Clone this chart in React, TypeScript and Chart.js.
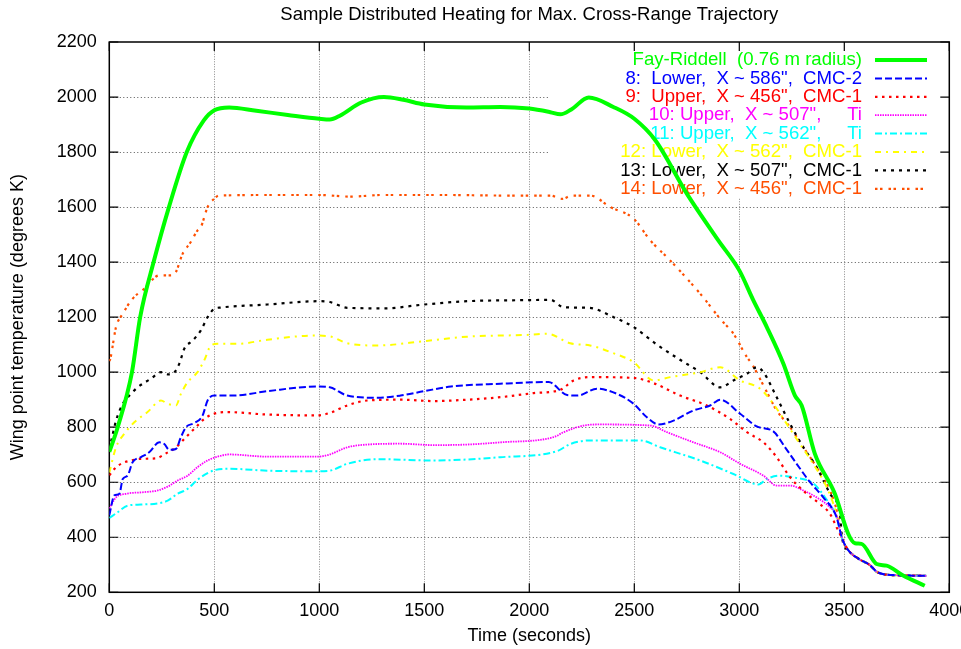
import React, { useEffect, useRef } from "react";
import { Chart, registerables } from "chart.js";

Chart.register(...registerables);

// ---------- data (time in seconds, temperature in K) ----------
const TITLE = "Sample Distributed Heating for Max. Cross-Range Trajectory";
const X_TITLE = "Time (seconds)";
const Y_TITLE = "Wing point temperature (degrees K)";
const X_TICKS = [0, 500, 1000, 1500, 2000, 2500, 3000, 3500, 4000];
const Y_TICKS = [200, 400, 600, 800, 1000, 1200, 1400, 1600, 1800, 2000, 2200];

const FAY_T = [0, 40, 108, 147, 211, 284, 369, 450, 500, 571, 700, 850, 1000, 1050, 1100, 1200, 1308, 1400, 1500, 1700, 1862, 2000, 2100, 2148, 2200, 2283, 2400, 2500, 2600, 2750, 2900, 3000, 3067, 3131, 3210, 3265, 3297, 3360, 3455, 3519, 3551, 3582, 3654, 3701, 3780, 3883];
const FAY_V = [710, 800, 1000, 1200, 1400, 1600, 1800, 1915, 1952, 1962, 1950, 1935, 1921, 1918, 1933, 1980, 2000, 1990, 1973, 1962, 1964, 1958, 1945, 1937, 1955, 1998, 1964, 1921, 1843, 1649, 1479, 1370, 1261, 1164, 1031, 915, 879, 703, 558, 412, 378, 376, 303, 297, 261, 224];

// shared tail where all thin curves merge
const TAIL_T = [3490, 3520, 3570, 3620, 3660, 3750, 3890];
const TAIL_V = [395, 352, 321, 300, 272, 262, 260];

const S8_T = [0, 24, 48, 64, 87, 111, 151, 190, 238, 262, 285, 317, 341, 365, 404, 444, 468, 499, 594, 753, 991, 1050, 1133, 1276, 1387, 1500, 1627, 1862, 2092, 2180, 2230, 2322, 2418, 2497, 2560, 2615, 2687, 2782, 2861, 2909, 3004, 3083, 3162, 3218, 3273, 3337, 3400, 3463];
const S8_V = [480, 552, 558, 612, 624, 673, 691, 709, 745, 739, 718, 721, 764, 800, 815, 842, 897, 915, 915, 931, 948, 945, 915, 907, 915, 931, 948, 958, 964, 917, 915, 940, 921, 885, 836, 810, 824, 861, 879, 900, 849, 803, 785, 727, 667, 600, 545, 473];

const S9_T = [0, 24, 56, 103, 151, 222, 270, 317, 365, 412, 452, 499, 563, 753, 991, 1050, 1133, 1229, 1387, 1546, 1704, 1862, 2021, 2148, 2211, 2290, 2497, 2592, 2718, 2845, 2956, 3036, 3115, 3178, 3242, 3321, 3384, 3432, 3471];
const S9_V = [625, 648, 667, 679, 685, 687, 705, 727, 764, 800, 830, 849, 855, 846, 843, 852, 879, 897, 900, 895, 900, 909, 924, 936, 970, 982, 979, 960, 915, 879, 830, 782, 745, 691, 618, 558, 521, 485, 424];

const S10_T = [0, 32, 79, 166, 230, 278, 325, 373, 420, 468, 515, 571, 753, 991, 1050, 1133, 1229, 1387, 1546, 1704, 1862, 2116, 2164, 2259, 2338, 2576, 2655, 2782, 2909, 3004, 3115, 3178, 3242, 3305, 3368, 3432, 3463];
const S10_V = [505, 545, 558, 564, 570, 584, 606, 624, 655, 679, 693, 701, 693, 693, 701, 727, 737, 740, 735, 737, 745, 764, 782, 806, 810, 806, 782, 745, 709, 667, 624, 588, 588, 570, 545, 509, 479];

const S11_T = [0, 40, 87, 151, 238, 278, 325, 373, 420, 468, 507, 571, 753, 991, 1050, 1133, 1276, 1546, 1862, 2132, 2195, 2290, 2528, 2623, 2814, 2972, 3091, 3131, 3194, 3257, 3352, 3408, 3463];
const S11_V = [470, 491, 515, 519, 524, 533, 558, 576, 609, 633, 645, 649, 642, 640, 642, 667, 684, 679, 691, 713, 739, 752, 752, 727, 679, 630, 592, 612, 624, 618, 596, 545, 473];

const S12_T = [0, 32, 71, 119, 182, 246, 278, 317, 341, 373, 420, 452, 484, 515, 610, 753, 975, 1050, 1133, 1276, 1500, 1704, 2005, 2085, 2195, 2290, 2386, 2497, 2592, 2671, 2814, 2909, 3004, 3099, 3162, 3226, 3289, 3352, 3416, 3463];
const S12_V = [635, 727, 776, 818, 855, 897, 885, 879, 921, 964, 1000, 1043, 1097, 1103, 1103, 1118, 1133, 1130, 1105, 1097, 1113, 1129, 1136, 1140, 1105, 1097, 1073, 1036, 970, 982, 1000, 1018, 970, 940, 885, 812, 739, 667, 582, 485];

const S13_T = [0, 15, 32, 64, 103, 135, 198, 246, 278, 301, 333, 357, 397, 436, 468, 499, 531, 753, 1002, 1050, 1133, 1308, 1500, 1704, 2005, 2100, 2164, 2283, 2401, 2497, 2608, 2718, 2814, 2909, 2972, 3036, 3083, 3115, 3178, 3242, 3305, 3368, 3432, 3479];
const S13_V = [720, 770, 824, 885, 921, 945, 976, 1000, 992, 994, 1030, 1085, 1115, 1152, 1200, 1230, 1235, 1246, 1258, 1255, 1234, 1232, 1246, 1258, 1262, 1263, 1236, 1234, 1200, 1164, 1100, 1045, 1000, 945, 970, 994, 1018, 1000, 909, 812, 727, 655, 558, 485];

const S14_T = [0, 5, 32, 64, 111, 166, 238, 293, 317, 349, 388, 420, 436, 468, 499, 523, 800, 1000, 1150, 1300, 1600, 1862, 2100, 2156, 2203, 2290, 2386, 2497, 2576, 2671, 2814, 2909, 2972, 3036, 3059, 3115, 3178, 3242, 3305, 3368, 3424, 3460];
const S14_V = [1040, 1049, 1164, 1212, 1267, 1303, 1352, 1352, 1364, 1430, 1473, 1515, 1527, 1600, 1630, 1642, 1644, 1644, 1638, 1644, 1644, 1642, 1642, 1630, 1642, 1642, 1600, 1558, 1479, 1406, 1285, 1194, 1140, 1055, 1031, 952, 861, 800, 727, 655, 582, 510];

const LABELS = [
  "Fay-Riddell  (0.76 m radius)",
  "8:  Lower,  X ~ 586\",  CMC-2",
  "9:  Upper,  X ~ 456\",  CMC-1",
  "10: Upper,  X ~ 507\",     Ti",
  "11: Upper,  X ~ 562\",     Ti",
  "12: Lower,  X ~ 562\",  CMC-1",
  "13: Lower,  X ~ 507\",  CMC-1",
  "14: Lower,  X ~ 456\",  CMC-1",
];

// ---------- styles ----------
const FONT = "'Liberation Sans', Arial, Helvetica, sans-serif";
const STYLES = [
  { color: "#00ff00", width: 4, dash: [] as number[] },
  { color: "#0000ff", width: 2, dash: [7, 3] },
  { color: "#ff0000", width: 2.2, dash: [2.5, 4.5] },
  { color: "#ff00ff", width: 1.8, dash: [1.5, 1] },
  { color: "#00ffff", width: 2, dash: [7, 3, 2, 3] },
  { color: "#ffff00", width: 2, dash: [6, 5, 2, 5] },
  { color: "#000000", width: 2.2, dash: [3, 5] },
  { color: "#ff4f00", width: 2.2, dash: [2.5, 2.5, 2.5, 6] },
];

const KEY_LEFT = 549;
const KEY_BOTTOM = 198;
const LEGEND_TEXT_RIGHT = 862;
const LEGEND_TOP = 60;
const LEGEND_ROW = 18.4;
const SAMPLE_X0 = 875;
const SAMPLE_X1 = 927;
const TITLE_Y = 15;

function pts(t: number[], v: number[], withTail: boolean) {
  const out = t.map((x, i) => ({ x, y: v[i] }));
  if (withTail) TAIL_T.forEach((x, i) => out.push({ x, y: TAIL_V[i] }));
  return out;
}

const framePlugin = {
  id: "frame",
  beforeDatasetsDraw(chart: any) {
    const { ctx, chartArea: a, scales } = chart;
    const xs = scales.x;
    const ys = scales.y;
    ctx.save();
    // title centred over the plot area
    ctx.font = `18.5px ${FONT}`;
    ctx.fillStyle = "#000";
    ctx.textAlign = "center";
    ctx.textBaseline = "middle";
    ctx.fillText(TITLE, (a.left + a.right) / 2, TITLE_Y);
    // grid
    ctx.lineWidth = 1;
    ctx.strokeStyle = "#555";
    ctx.setLineDash([1, 2.5]);
    Y_TICKS.forEach((v) => {
      if (v === Y_TICKS[0] || v === Y_TICKS[Y_TICKS.length - 1]) return;
      const py = Math.round(ys.getPixelForValue(v)) + 0.5;
      const xEnd = py < KEY_BOTTOM ? KEY_LEFT : a.right;
      ctx.beginPath();
      ctx.moveTo(a.left, py);
      ctx.lineTo(xEnd, py);
      ctx.stroke();
    });
    ctx.strokeStyle = "#888";
    ctx.setLineDash([1, 1.5]);
    X_TICKS.forEach((v) => {
      if (v === X_TICKS[0] || v === X_TICKS[X_TICKS.length - 1]) return;
      const px = Math.round(xs.getPixelForValue(v)) + 0.5;
      const yTop = px > KEY_LEFT ? KEY_BOTTOM : a.top;
      ctx.beginPath();
      ctx.moveTo(px, a.bottom);
      ctx.lineTo(px, yTop);
      ctx.stroke();
    });
    ctx.setLineDash([]);
    // border
    ctx.strokeStyle = "#000";
    ctx.lineWidth = 1.5;
    ctx.strokeRect(a.left, a.top, a.right - a.left, a.bottom - a.top);
    // inward ticks
    const TL = 9;
    ctx.lineWidth = 1.2;
    ctx.beginPath();
    Y_TICKS.forEach((v) => {
      const py = ys.getPixelForValue(v);
      ctx.moveTo(a.left, py);
      ctx.lineTo(a.left + TL, py);
      ctx.moveTo(a.right, py);
      ctx.lineTo(a.right - TL, py);
    });
    X_TICKS.forEach((v) => {
      const px = xs.getPixelForValue(v);
      ctx.moveTo(px, a.bottom);
      ctx.lineTo(px, a.bottom - TL);
      ctx.moveTo(px, a.top);
      ctx.lineTo(px, a.top + TL);
    });
    ctx.stroke();
    // legend
    ctx.font = `18.6px ${FONT}`;
    ctx.textAlign = "right";
    ctx.textBaseline = "middle";
    chart.data.datasets.forEach((ds: any, i: number) => {
      const yy = LEGEND_TOP + i * LEGEND_ROW;
      ctx.fillStyle = ds.borderColor;
      ctx.fillText(ds.label, LEGEND_TEXT_RIGHT, yy);
      ctx.strokeStyle = ds.borderColor;
      ctx.lineWidth = ds.borderWidth;
      ctx.setLineDash(ds.borderDash || []);
      ctx.beginPath();
      ctx.moveTo(SAMPLE_X0, yy);
      ctx.lineTo(SAMPLE_X1, yy);
      ctx.stroke();
    });
    ctx.restore();
  },
};

export default function App() {
  const ref = useRef<HTMLCanvasElement | null>(null);
  useEffect(() => {
    if (!ref.current) return;
    const series = [
      pts(FAY_T, FAY_V, false),
      pts(S8_T, S8_V, true),
      pts(S9_T, S9_V, true),
      pts(S10_T, S10_V, true),
      pts(S11_T, S11_V, true),
      pts(S12_T, S12_V, true),
      pts(S13_T, S13_V, true),
      pts(S14_T, S14_V, true),
    ];
    const chart = new Chart(ref.current, {
      type: "line",
      data: {
        datasets: series.map((d, i) => ({
          label: LABELS[i],
          data: d,
          borderColor: STYLES[i].color,
          backgroundColor: STYLES[i].color,
          borderWidth: STYLES[i].width,
          borderDash: STYLES[i].dash,
          borderCapStyle: "butt",
          pointRadius: 0,
          fill: false,
          cubicInterpolationMode: "monotone",
        })),
      },
      options: {
        animation: false,
        responsive: false,
        devicePixelRatio: 1,
        layout: { padding: { left: 0, right: 11.7, top: 42, bottom: 0 } },
        plugins: {
          legend: { display: false },
          tooltip: { enabled: false },
          title: { display: false },
        },
        scales: {
          x: {
            type: "linear",
            min: 0,
            max: 4000,
            afterBuildTicks: (s: any) => {
              s.ticks = X_TICKS.map((v) => ({ value: v }));
            },
            ticks: {
              color: "#000",
              font: { family: FONT, size: 18 },
              padding: 8.4,
              maxRotation: 0,
              autoSkip: false,
              callback: (v: any) => String(v),
            },
            grid: { display: false, drawTicks: false },
            border: { display: false },
            title: { display: true, text: X_TITLE, color: "#000", font: { family: FONT, size: 18 }, padding: { top: 0, bottom: 2 } },
            afterFit: (s: any) => {
              s.height = 56.7;
              s.paddingLeft = 0;
              s.paddingRight = 0;
            },
          },
          y: {
            type: "linear",
            min: 200,
            max: 2200,
            afterBuildTicks: (s: any) => {
              s.ticks = Y_TICKS.map((v) => ({ value: v }));
            },
            ticks: {
              color: "#000",
              font: { family: FONT, size: 18 },
              padding: 12.6,
              autoSkip: false,
              callback: (v: any) => String(v),
            },
            grid: { display: false, drawTicks: false },
            border: { display: false },
            title: { display: true, text: Y_TITLE, color: "#000", font: { family: FONT, size: 18 }, padding: { top: 7, bottom: 0 } },
            afterFit: (s: any) => {
              s.width = 109.3;
              s.paddingTop = 0;
              s.paddingBottom = 0;
            },
          },
        },
      },
      plugins: [framePlugin],
    } as any);
    return () => chart.destroy();
  }, []);
  return (
    <div style={{ position: "absolute", left: 0, top: 0, width: 961, height: 649, background: "#fff" }}>
      <canvas ref={ref} width={961} height={649} style={{ display: "block" }} />
    </div>
  );
}
